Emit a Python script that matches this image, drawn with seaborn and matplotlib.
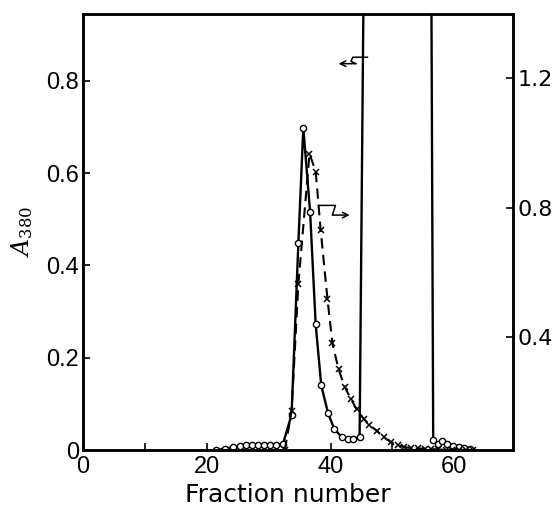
import numpy as np
import matplotlib
matplotlib.use('Agg')
import matplotlib.pyplot as plt
import seaborn as sns

# A380 (open circles, solid line, left axis); the big peak 46-56 runs off scale
frac_a = [21.5, 23.0, 24.3, 25.4, 26.3, 27.3, 28.3, 29.2, 30.2, 31.2, 32.3, 33.7, 34.8,
          35.6, 36.7, 37.6, 38.5, 39.6, 40.6, 41.8, 42.8, 43.7, 44.7, 46.0, 56.0,
          56.6, 57.4, 58.0, 58.8, 59.8, 60.8, 61.6, 62.5]
a380 = [0.0, 0.003, 0.006, 0.009, 0.010, 0.010, 0.011, 0.011, 0.012, 0.012, 0.013, 0.076, 0.448,
        0.698, 0.515, 0.272, 0.140, 0.080, 0.046, 0.028, 0.025, 0.025, 0.028, 2.0, 2.0,
        0.022, 0.013, 0.020, 0.013, 0.009, 0.007, 0.004, 0.002]

# second profile (crosses, dashed line, right axis)
frac_b = [32.6, 33.7, 34.8, 36.6, 37.6, 38.4, 39.5, 40.3, 41.3, 42.3, 43.3, 44.2, 45.4,
          46.3, 47.5, 48.6, 49.8, 50.9, 51.9, 53.0, 54.1, 55.2, 56.3, 57.4, 58.6, 59.7,
          60.8, 61.9, 63.0]
val_b = [0.05, 0.17, 0.564, 0.967, 0.912, 0.732, 0.518, 0.381, 0.300, 0.245, 0.208, 0.177, 0.146,
         0.127, 0.109, 0.090, 0.074, 0.065, 0.059, 0.056, 0.055, 0.054, 0.053, 0.052, 0.051, 0.051,
         0.050, 0.050, 0.050]

xticks = [0, 10, 20, 30, 40, 50, 60]
xticklabels = ['0', '', '20', '', '40', '', '60']
yticks_l = [0, 0.2, 0.4, 0.6, 0.8]
yticklabels_l = ['0', '0.2', '0.4', '0.6', '0.8']
yticks_r = [0.4, 0.8, 1.2]
yticklabels_r = ['0.4', '0.8', '1.2']

sns.set_style('ticks')
plt.rcParams['font.family'] = ['Liberation Sans', 'DejaVu Sans']
plt.rcParams['mathtext.fontset'] = 'dejavuserif'
plt.rcParams['text.color'] = 'black'
plt.rcParams['axes.labelcolor'] = 'black'
plt.rcParams['xtick.color'] = 'black'
plt.rcParams['ytick.color'] = 'black'
plt.rcParams['axes.edgecolor'] = 'black'

fig = plt.figure(figsize=(5.54, 5.12), dpi=100)
ax = fig.add_axes([0.150, 0.121, 0.776, 0.852])
ax2 = ax.twinx()

sns.lineplot(x=frac_a, y=a380, ax=ax, color='black', lw=1.7, marker='o', ms=4.5,
             mfc='white', mec='black', mew=1.0, sort=False)
sns.lineplot(x=frac_b, y=val_b, ax=ax2, color='black', lw=1.5, linestyle=(0, (5, 3)),
             marker='x', ms=4.5, mec='black', mew=1.1, sort=False)

ax.set_xlim(0, 69.5)
ax.set_ylim(0, 0.945)
ax2.set_ylim(0.05, 1.40)

ax.set_xticks(xticks)
ax.set_xticklabels(xticklabels, fontsize=17)
ax.set_yticks(yticks_l)
ax.set_yticklabels(yticklabels_l, fontsize=17)
ax2.set_yticks(yticks_r)
ax2.set_yticklabels(yticklabels_r, fontsize=16, family='DejaVu Sans')

ax.tick_params(axis='both', direction='in', length=5, width=1.2, pad=3, colors='black')
ax.tick_params(axis='x', pad=4)
ax2.tick_params(axis='y', direction='in', length=5, width=1.2, pad=3, colors='black')

for a in (ax, ax2):
    for s in a.spines.values():
        s.set_linewidth(1.8)
        s.set_color('black')
        s.set_visible(True)

ax.set_xlabel('Fraction number', fontsize=18, family='DejaVu Sans')
ax.xaxis.set_label_coords(0.477, -0.075)
ax.set_ylabel(r'$A_{\mathrm{380}}$', fontsize=17, labelpad=8)

# axis hints (hooked arrows)
ax.plot([46.0, 43.6, 43.3, 44.1], [0.851, 0.851, 0.842, 0.837], color='black', lw=1.1)
ax.annotate('', xy=(41.3, 0.837), xytext=(44.1, 0.837),
            arrowprops=dict(arrowstyle='->', color='black', lw=1.1, shrinkA=0, shrinkB=0))
ax.plot([38.0, 40.8, 40.3], [0.530, 0.530, 0.509], color='black', lw=1.1)
ax.annotate('', xy=(43.1, 0.509), xytext=(40.3, 0.509),
            arrowprops=dict(arrowstyle='->', color='black', lw=1.1, shrinkA=0, shrinkB=0))

fig.savefig('out.png', dpi=100)
